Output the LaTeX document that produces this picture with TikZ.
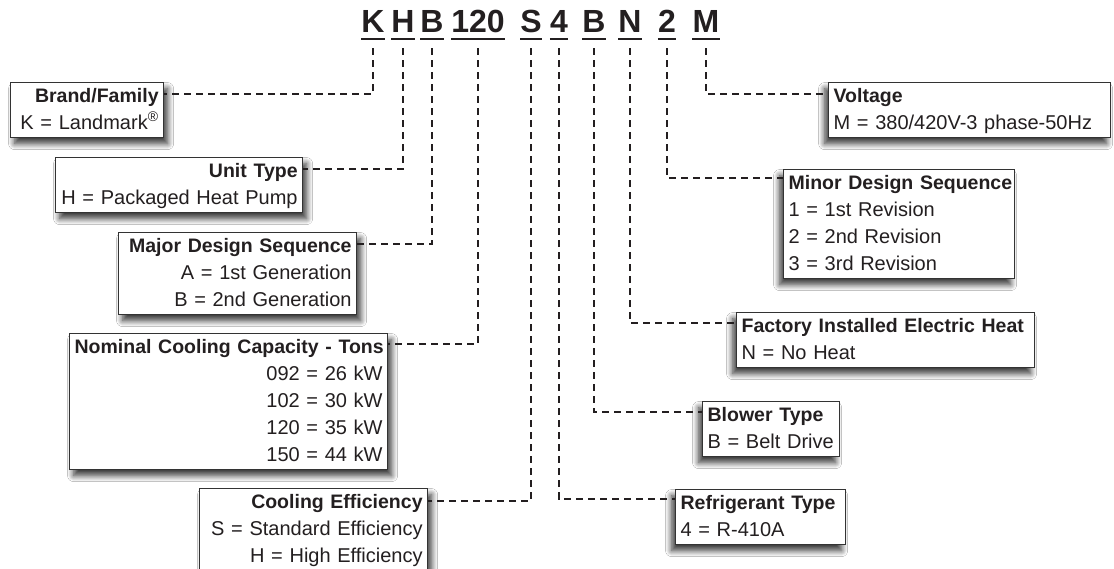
\documentclass[tikz,border=0pt]{standalone}
\usepackage{fontspec}
\setmainfont{Liberation Sans}
\usetikzlibrary{shadows.blur}
\definecolor{ink}{HTML}{231F20}
\definecolor{frame}{HTML}{333333}
\newcommand{\ttl}[1]{\mbox{\fontsize{19.5}{27}\selectfont\bfseries #1}}
\newcommand{\lne}[1]{\mbox{#1}}
\tikzset{
  codeltr/.style={font=\fontsize{32}{32}\selectfont\bfseries, text=ink, inner sep=0pt, text depth=0pt, anchor=base},
  uline/.style={draw=ink, line width=2.5pt},
  conn/.style={draw=ink, line width=2pt, dash pattern=on 7pt off 5pt},
  infobox/.style={draw=frame, line width=1.2pt, fill=white, text=ink,
    font=\fontsize{20}{27}\selectfont, inner xsep=5pt, inner ysep=6pt,
    text height=13.5pt, anchor=north west},
  lbox/.style={infobox, align=right, blur shadow={shadow xshift=4pt, shadow yshift=-6pt, shadow blur radius=6pt, shadow blur steps=10, shadow opacity=80}},
  rbox/.style={infobox, align=left, blur shadow={shadow xshift=-4pt, shadow yshift=-6pt, shadow blur radius=6pt, shadow blur steps=10, shadow opacity=80}},
  nltwo/.style={text depth=29.5pt},
  nlthree/.style={text depth=56.5pt},
  nlfour/.style={text depth=83.5pt},
  nlfive/.style={text depth=110.5pt},
}
\begin{document}
\begin{tikzpicture}[x=1pt, y=-1pt]
\useasboundingbox[fill=white] (0,0) rectangle (1114,569);
% code letters
\node[codeltr] (K) at (373,33) {K};
\node[codeltr] (H) at (403,33) {H};
\node[codeltr] (B1) at (432,33) {B};
\node[codeltr] (n120) at (478,33) {120};
\node[codeltr] (S) at (531,33) {S};
\node[codeltr] (n4) at (559,33) {4};
\node[codeltr] (B2) at (594,33) {B};
\node[codeltr] (N) at (630,33) {N};
\node[codeltr] (n2) at (667,33) {2};
\node[codeltr] (M) at (706,33) {M};
\foreach \n in {K,H,B1,n120,S,n4,B2,N,n2,M}
  \draw[uline] ([yshift=-6pt]\n.south west) -- ([yshift=-6pt]\n.south east);
% left boxes
\node[lbox, text width=143pt, nltwo] (brand) at (10,82)
  {\ttl{Brand/Family}\\\lne{K = Landmark\textsuperscript{®}}};
\node[lbox, text width=237pt, nltwo] (unit) at (55,157)
  {\ttl{Unit Type}\\\lne{H = Packaged Heat Pump}};
\node[lbox, text width=228pt, nlthree] (major) at (118,232)
  {\ttl{Major Design Sequence}\\\lne{A = 1st Generation}\\\lne{B = 2nd Generation}};
\node[lbox, text width=308pt, nlfive] (nominal) at (69,333)
  {\ttl{Nominal Cooling Capacity - Tons}\\\lne{092 = 26 kW}\\\lne{102 = 30 kW}\\\lne{120 = 35 kW}\\\lne{150 = 44 kW}};
\node[lbox, text width=218pt, nlthree] (cooling) at (199,488)
  {\ttl{Cooling Efficiency}\\\lne{S = Standard Efficiency}\\\lne{H = High Efficiency}};
% right boxes
\node[rbox, text width=272pt, nltwo] (voltage) at (828,82)
  {\ttl{Voltage}\\\lne{M = 380/420V-3 phase-50Hz}};
\node[rbox, text width=221pt, nlfour] (minor) at (783,169)
  {\ttl{Minor Design Sequence}\\\lne{1 = 1st Revision}\\\lne{2 = 2nd Revision}\\\lne{3 = 3rd Revision}};
\node[rbox, text width=288pt, nltwo] (factory) at (736,312)
  {\ttl{Factory Installed Electric Heat}\\\lne{N = No Heat}};
\node[rbox, text width=127pt, nltwo] (blower) at (702,401)
  {\ttl{Blower Type}\\\lne{B = Belt Drive}};
\node[rbox, text width=160pt, nltwo] (refrig) at (675,489)
  {\ttl{Refrigerant Type}\\\lne{4 = R-410A}};
% connectors
\draw[conn] ([yshift=-15pt]K.south) |- ([yshift=-12pt]brand.north east);
\draw[conn] ([yshift=-15pt]H.south) |- ([yshift=-12pt]unit.north east);
\draw[conn] ([yshift=-15pt]B1.south) |- ([yshift=-12pt]major.north east);
\draw[conn] ([yshift=-15pt]n120.south) |- ([yshift=-11pt]nominal.north east);
\draw[conn] ([yshift=-15pt]S.south) |- ([yshift=-13pt]cooling.north east);
\draw[conn] ([yshift=-15pt]n4.south) |- ([yshift=-10pt]refrig.north west);
\draw[conn] ([yshift=-15pt]B2.south) |- ([yshift=-11pt]blower.north west);
\draw[conn] ([yshift=-15pt]N.south) |- ([yshift=-11pt]factory.north west);
\draw[conn] ([yshift=-15pt]n2.south) |- ([yshift=-9pt]minor.north west);
\draw[conn] ([yshift=-15pt]M.south) |- ([yshift=-12pt]voltage.north west);
\end{tikzpicture}
\end{document}
